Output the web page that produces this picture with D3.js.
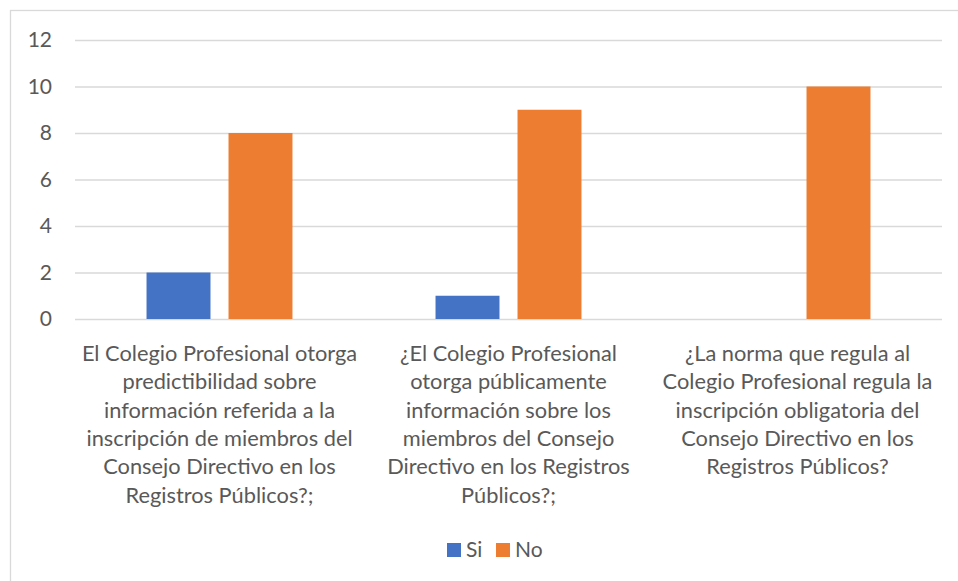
<!DOCTYPE html>
<html>
  <head>
    <meta charset="utf-8">
    <title>Clustered bar chart</title>
    <script src="https://d3js.org/d3.v7.min.js"></script>
    <style>
      body { margin: 0; background: #fff; }
      text { font-family: Lato, "Open Sans", sans-serif; fill: #595959; }
      .grid line { stroke: #d9d9d9; stroke-width: 1.3; }
      .grid text { font-size: 21px; }
      .cat text { font-size: 21.8px; }
      .legend text { font-size: 21px; }
    </style>
  </head>
  <body>
    <svg width="958" height="581"></svg>
    <script>
      // categories (label lines as wrapped in the original)
      var categories = ["q1", "q2", "q3"];
      var categoryLabels = [
        ["El Colegio Profesional otorga", "predictibilidad sobre", "información referida a la",
         "inscripción de miembros del", "Consejo Directivo en los", "Registros Públicos?;"],
        ["¿El Colegio Profesional", "otorga públicamente", "información sobre los",
         "miembros del Consejo", "Directivo en los Registros", "Públicos?;"],
        ["¿La norma que regula al", "Colegio Profesional regula la", "inscripción obligatoria del",
         "Consejo Directivo en los", "Registros Públicos?"]
      ];
      var seriesNames = ["Si", "No"];
      var siValues = [2, 1, 0];
      var noValues = [8, 9, 10];
      var yTicks = [0, 2, 4, 6, 8, 10, 12];
      var colors = {Si: "#4472c4", No: "#ed7d31"};

      var margin = {top: 40, right: 16, bottom: 262, left: 75},
          width = 958 - margin.left - margin.right,
          height = 581 - margin.top - margin.bottom;

      var svg = d3.select("svg");

      // chart border
      svg.append("rect")
          .attr("x", 10.5).attr("y", 10.5)
          .attr("width", 1000).attr("height", 1000)
          .attr("fill", "none")
          .attr("stroke", "#d9d9d9")
          .attr("stroke-width", 1.3);

      var g = svg.append("g")
          .attr("transform", "translate(" + margin.left + "," + margin.top + ")");

      var x0 = d3.scaleBand()
          .domain(categories)
          .range([0, width])
          .padding(0);

      var clusterW = x0.bandwidth() * 0.505;
      var x1 = d3.scaleBand()
          .domain(seriesNames)
          .range([(x0.bandwidth() - clusterW) / 2, (x0.bandwidth() + clusterW) / 2])
          .paddingInner(0.22)
          .paddingOuter(0);

      var y = d3.scaleLinear()
          .domain([0, 12])
          .range([height, 0]);

      var yAxis = g.append("g")
          .attr("class", "grid")
          .call(d3.axisLeft(y).tickValues(yTicks).tickSize(-width).tickPadding(23));
      yAxis.select(".domain").remove();

      var rows = categories.map(function(c, i) {
        return {cat: c, Si: siValues[i], No: noValues[i]};
      });

      var groups = g.selectAll(".group")
          .data(rows)
          .enter().append("g")
          .attr("class", "group")
          .attr("transform", function(d) { return "translate(" + x0(d.cat) + ",0)"; });

      groups.selectAll("rect")
          .data(function(d) {
            return seriesNames.map(function(s) { return {key: s, value: d[s]}; });
          })
          .enter().append("rect")
          .attr("x", function(d) { return x1(d.key); })
          .attr("width", x1.bandwidth())
          .attr("y", function(d) { return y(d.value); })
          .attr("height", function(d) { return height - y(d.value); })
          .attr("fill", function(d) { return colors[d.key]; });

      // category labels
      var cat = g.append("g").attr("class", "cat");
      categories.forEach(function(c, i) {
        var t = cat.append("text")
            .attr("text-anchor", "middle")
            .attr("x", x0(c) + x0.bandwidth() / 2)
            .attr("y", height + 42);
        categoryLabels[i].forEach(function(line, j) {
          t.append("tspan")
              .attr("x", x0(c) + x0.bandwidth() / 2)
              .attr("y", height + 42 + j * 28.3)
              .text(line);
        });
      });

      // legend
      var legend = svg.append("g").attr("class", "legend");
      var lx = [447, 496];
      seriesNames.forEach(function(s, i) {
        legend.append("rect")
            .attr("x", lx[i]).attr("y", 543)
            .attr("width", 14).attr("height", 14)
            .attr("fill", colors[s]);
        legend.append("text")
            .attr("x", lx[i] + 19).attr("y", 557)
            .text(s);
      });
    </script>
  </body>
</html>
